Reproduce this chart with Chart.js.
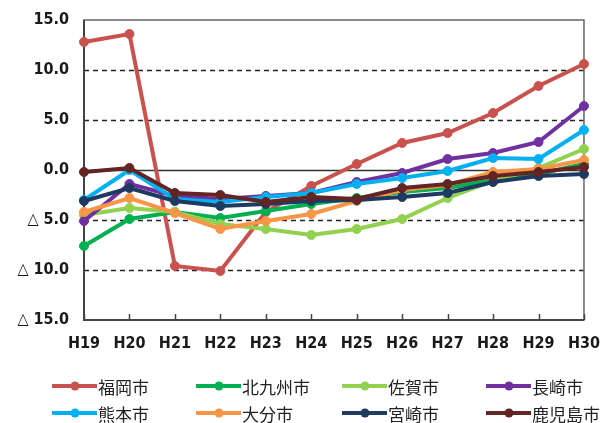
<!DOCTYPE html>
<html>
<head>
<meta charset="utf-8">
<script src="https://cdn.jsdelivr.net/npm/chart.js@4"></script>
<style>
  html, body { margin: 0; padding: 0; background: #fff; }
  #wrap { position: relative; width: 614px; height: 423px; overflow: hidden; }
  #chart { position: absolute; left: 0; top: 0; }
  .legend { position: absolute; left: 0; top: 0; width: 614px; height: 423px; pointer-events: none;
            font-family: "Noto Sans CJK JP", "Noto Sans", sans-serif; font-size: 17px; color: #222; }
  .item { position: absolute; display: flex; align-items: center; height: 24px; white-space: nowrap; }
  .swatch { position: relative; width: 45px; height: 4px; margin-right: 1px; }
  .swatch i { position: absolute; left: 50%; top: 50%; width: 9px; height: 9px; border-radius: 50%;
              transform: translate(-50%, -50%); }
</style>
</head>
<body>
<div id="wrap">
  <canvas id="chart" width="614" height="423"></canvas>
  <div class="legend" id="legend"></div>
</div>
<script>
// Fiscal years (Heisei)
const years = ['H19', 'H20', 'H21', 'H22', 'H23', 'H24', 'H25', 'H26', 'H27', 'H28', 'H29', 'H30'];

// Year-on-year change (%) per city
const fukuoka     = [12.8, 13.6, -9.6, -10.1, -4.2, -1.6, 0.6, 2.7, 3.7, 5.7, 8.4, 10.6];
const kitakyushu  = [-7.6, -4.9, -4.2, -4.8, -4.1, -3.4, -2.8, -2.2, -1.8, -1.0, -0.4, 0.6];
const saga        = [-4.5, -3.8, -4.2, -5.4, -5.9, -6.5, -5.9, -4.9, -2.8, -1.1, 0.2, 2.1];
const nagasaki    = [-5.1, -1.4, -2.6, -2.9, -2.6, -2.3, -1.2, -0.3, 1.1, 1.7, 2.8, 6.4];
const kumamoto    = [-3.0, 0.0, -2.9, -3.2, -2.7, -2.3, -1.4, -0.8, -0.1, 1.2, 1.1, 4.0];
const oita        = [-4.2, -2.8, -4.3, -5.9, -5.1, -4.4, -3.1, -2.0, -1.5, -0.2, 0.1, 1.0];
const miyazaki    = [-3.1, -1.8, -3.1, -3.6, -3.4, -3.1, -3.0, -2.7, -2.3, -1.2, -0.6, -0.4];
const kagoshima   = [-0.2, 0.2, -2.3, -2.5, -3.2, -2.7, -2.9, -1.8, -1.4, -0.6, -0.2, 0.3];

const cityNames  = ['福岡市', '北九州市', '佐賀市', '長崎市', '熊本市', '大分市', '宮崎市', '鹿児島市'];
const cityColors = ['#C8524D', '#00B050', '#92D050', '#7030A0', '#00B0F0', '#F79646', '#1F3A60', '#632523'];
const cityValues = [fukuoka, kitakyushu, saga, nagasaki, kumamoto, oita, miyazaki, kagoshima];

// Vertical axis ticks (negative values written with △)
const yTickValues = [-15, -10, -5, 0, 5, 10, 15];
const yTickLabels = ['△ 15.0', '△ 10.0', '△ 5.0', '0.0', '5.0', '10.0', '15.0'];

const axisFont = { family: '"DejaVu Sans Condensed", "DejaVu Sans", sans-serif', size: 16, weight: 'bold' };

// Plot frame, dashed grid lines, solid zero line and small category ticks
const framePlugin = {
  id: 'frame',
  beforeDatasetsDraw(chart) {
    const { ctx, chartArea: a, scales: { x, y } } = chart;
    ctx.save();
    yTickValues.forEach(v => {
      if (Math.abs(v) === 15) return;
      const py = Math.round(y.getPixelForValue(v)) + 0.5;
      ctx.beginPath();
      ctx.lineWidth = 1.5;
      ctx.strokeStyle = v === 0 ? '#333' : '#222';
      ctx.setLineDash(v === 0 ? [] : [5, 4]);
      ctx.moveTo(a.left, py);
      ctx.lineTo(a.right, py);
      ctx.stroke();
    });
    ctx.setLineDash([]);
    ctx.strokeStyle = '#666';
    ctx.lineWidth = 1.5;
    ctx.strokeRect(a.left, a.top, a.right - a.left, a.bottom - a.top);
    ctx.strokeStyle = '#444';
    ctx.lineWidth = 2;
    ctx.beginPath();
    ctx.moveTo(a.left, a.top);
    ctx.lineTo(a.left, a.bottom);
    ctx.lineTo(a.right, a.bottom);
    ctx.stroke();
    ctx.lineWidth = 1.5;
    ctx.beginPath();
    x.ticks.forEach((t, i) => {
      const px = Math.round(x.getPixelForTick(i)) + 0.5;
      ctx.moveTo(px, a.bottom);
      ctx.lineTo(px, a.bottom - 6);
    });
    ctx.stroke();
    ctx.restore();
  }
};

const datasets = cityNames.map((name, i) => ({
  label: name,
  data: cityValues[i],
  borderColor: cityColors[i],
  backgroundColor: cityColors[i],
  pointBackgroundColor: cityColors[i],
  pointBorderColor: cityColors[i],
  borderWidth: 4,
  pointRadius: 4.5,
  pointBorderWidth: 1,
  tension: 0,
  clip: false,
  order: cityNames.length - i
}));

new Chart(document.getElementById('chart'), {
  type: 'line',
  data: { labels: years, datasets },
  options: {
    responsive: false,
    animation: false,
    layout: { padding: { left: 0, right: 27, top: 20, bottom: 63 } },
    plugins: { legend: { display: false }, tooltip: { enabled: false } },
    scales: {
      x: {
        offset: false,
        grid: { display: false, drawTicks: false },
        border: { display: false },
        ticks: { font: axisFont, color: '#1a1a1a', padding: 14, maxRotation: 0, autoSkip: false },
        afterFit(s) { s.height = 40; }
      },
      y: {
        min: -15,
        max: 15,
        grid: { display: false, drawTicks: false },
        border: { display: false },
        ticks: {
          stepSize: 5,
          font: axisFont,
          color: '#1a1a1a',
          padding: 15,
          callback: v => {
            const k = yTickValues.indexOf(v);
            return k >= 0 ? yTickLabels[k] : '';
          }
        },
        afterFit(s) { s.width = 84; s.paddingTop = 0; s.paddingBottom = 0; }
      }
    }
  },
  plugins: [framePlugin]
});

// Legend laid out in four fixed columns
const legendCols = [52, 196, 342, 486];
const legendRows = [386, 413];
const legendEl = document.getElementById('legend');
cityNames.forEach((name, i) => {
  const item = document.createElement('div');
  item.className = 'item';
  item.style.left = legendCols[i % 4] + 'px';
  item.style.top = (legendRows[Math.floor(i / 4)] - 12) + 'px';
  item.innerHTML = '<span class="swatch" style="background:' + cityColors[i] + '"><i style="background:' +
    cityColors[i] + '"></i></span><span>' + name + '</span>';
  legendEl.appendChild(item);
});
</script>
</body>
</html>
